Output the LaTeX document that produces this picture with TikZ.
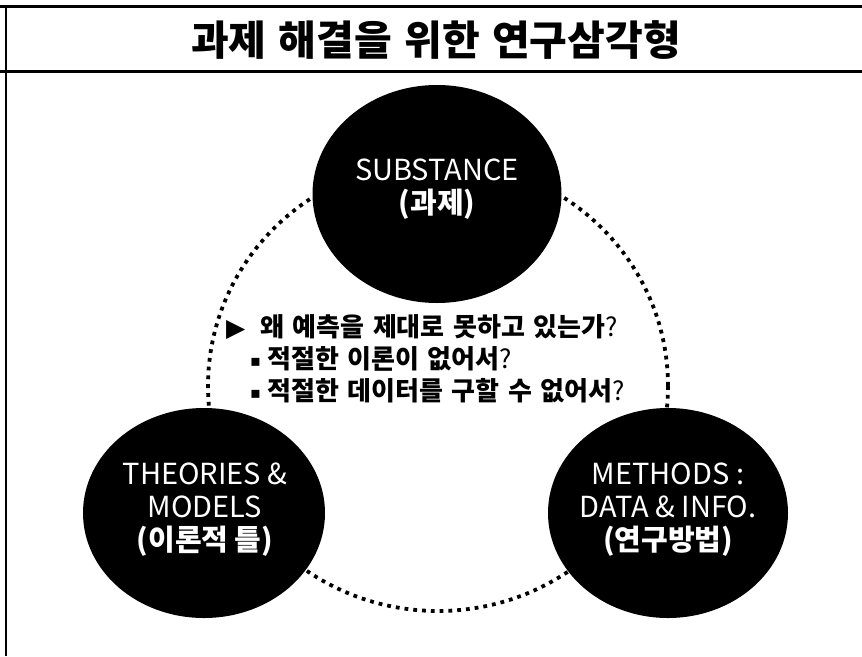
\documentclass[tikz,border=0pt]{standalone}
\usepackage{fontspec}
\setmainfont{Noto Sans CJK KR}
\newfontfamily\sym{DejaVu Sans}
\usetikzlibrary{shapes.geometric}
\begin{document}
\begin{tikzpicture}[x=1pt,y=-1pt,
  blob/.style={ellipse, fill=black, draw=none, inner sep=0pt},
  ctext/.style={text=white, align=center, inner sep=0pt, font=\fontsize{29}{33}\selectfont},
  qline/.style={anchor=base west, inner sep=0pt, font=\bfseries\fontsize{26}{30}\selectfont},
  dotring/.style={line width=3.8pt, dash pattern=on 3.8pt off 5pt}]
\useasboundingbox (0,0) rectangle (862,656);
\fill[white] (0,0) rectangle (862,656);
\draw[line width=3pt] (0,6.5) -- (862,6.5);
\draw[line width=3pt] (0,71) -- (862,71);
\draw[line width=2.5pt] (6,5) -- (6,656);
\node (title) at (436,40) {\bfseries\fontsize{41}{48}\selectfont\spaceskip=0.3em 과제 해결을 위한 연구삼각형};
\draw[dotring] (438,386) ellipse [x radius=230, y radius=225];
\node[blob, minimum width=249pt, minimum height=218pt] (sub) at (437,194) {};
\node[blob, minimum width=242pt, minimum height=210pt] (theo) at (204,513) {};
\node[blob, minimum width=240pt, minimum height=210pt] (meth) at (668,513) {};
\node[ctext] (subt) at (437,189) {SUBSTANCE\\{\bfseries(과제)}};
\node[ctext] (theot) at (205,510) {THEORIES \&\\MODELS\\{\bfseries(이론적 틀)}};
\node[ctext] (metht) at (668,510) {METHODS :\\DATA \& INFO.\\{\bfseries(연구방법)}};
\node[qline] (m1) at (226,336) {\sym\mdseries\fontsize{25}{25}\selectfont ▶};
\node[qline] (q1) at (260,336) {\spaceskip=0.33em 왜 예측을 제대로 못하고 있는가{\mdseries ?}};
\node[qline] (m2) at (250,366) {\sym\mdseries\fontsize{16}{16}\selectfont ▪};
\node[qline] (q2) at (267,368) {\spaceskip=0.33em 적절한 이론이 없어서{\mdseries ?}};
\node[qline] (m3) at (250,398) {\sym\mdseries\fontsize{16}{16}\selectfont ▪};
\node[qline] (q3) at (267,400) {\spaceskip=0.33em 적절한 데이터를 구할 수 없어서{\mdseries ?}};
\end{tikzpicture}
\end{document}
